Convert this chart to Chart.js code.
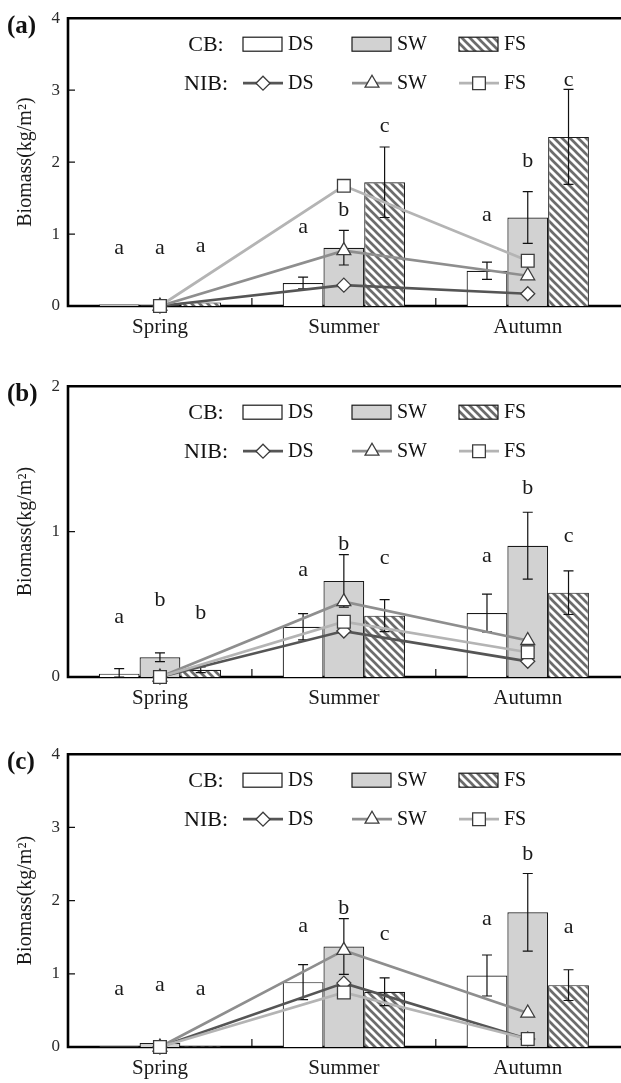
<!DOCTYPE html>
<html>
<head>
<meta charset="utf-8">
<script src="https://cdn.jsdelivr.net/npm/chart.js@4.4.1/dist/chart.umd.min.js"></script>
<style>
  body { margin: 0; background: #fff; width: 621px; height: 1083px; overflow: hidden; position: relative; }
  .panel { position: absolute; left: 0; }
</style>
</head>
<body>
<div class="panel" style="top:0"><canvas id="chartA" width="630" height="345"></canvas></div>
<div class="panel" style="top:368px"><canvas id="chartB" width="630" height="345"></canvas></div>
<div class="panel" style="top:736px"><canvas id="chartC" width="630" height="347"></canvas></div>
<script>
const seasons = ['Spring', 'Summer', 'Autumn'];
const legendNames = ['DS', 'SW', 'FS'];

// (a) CB bars, error, NIB lines, significance letters
const cbA_DS = [0.02, 0.32, 0.49];
const cbA_SW = [0.01, 0.81, 1.23];
const cbA_FS = [0.05, 1.72, 2.35];
const errA_DS = [0, 0.08, 0.12];
const errA_SW = [0, 0.24, 0.36];
const errA_FS = [0, 0.49, 0.66];
const nibA_DS = [0, 0.29, 0.17];
const nibA_SW = [0, 0.77, 0.42];
const nibA_FS = [0, 1.67, 0.63];
const sigA_DS = ['a', 'a', 'a'];
const sigA_SW = ['a', 'b', 'b'];
const sigA_FS = ['a', 'c', 'c'];
const sigYA_DS = [0.72, 1.02, 1.18];
const sigYA_SW = [0.72, 1.25, 1.93];
const sigYA_FS = [0.75, 2.42, 3.06];

// (b)
const cbB_DS = [0.023, 0.346, 0.44];
const cbB_SW = [0.136, 0.661, 0.903];
const cbB_FS = [0.05, 0.422, 0.58];
const errB_DS = [0.035, 0.09, 0.13];
const errB_SW = [0.03, 0.18, 0.23];
const errB_FS = [0.02, 0.11, 0.15];
const nibB_DS = [0, 0.316, 0.108];
const nibB_SW = [0, 0.518, 0.251];
const nibB_FS = [0, 0.38, 0.17];
const sigB_DS = ['a', 'a', 'a'];
const sigB_SW = ['b', 'b', 'b'];
const sigB_FS = ['b', 'c', 'c'];
const sigYB_DS = [0.373, 0.696, 0.793];
const sigYB_SW = [0.488, 0.876, 1.26];
const sigYB_FS = [0.396, 0.776, 0.931];

// (c)
const cbC_DS = [0.01, 0.886, 0.977];
const cbC_SW = [0.055, 1.373, 1.84];
const cbC_FS = [0.01, 0.755, 0.845];
const errC_DS = [0, 0.24, 0.28];
const errC_SW = [0, 0.38, 0.53];
const errC_FS = [0, 0.19, 0.21];
const nibC_DS = [0, 0.873, 0.11];
const nibC_SW = [0, 1.32, 0.464];
const nibC_FS = [0, 0.745, 0.11];
const sigC_DS = ['a', 'a', 'a'];
const sigC_SW = ['a', 'b', 'b'];
const sigC_FS = ['a', 'c', 'a'];
const sigYC_DS = [0.714, 1.577, 1.668];
const sigYC_SW = [0.76, 1.814, 2.555];
const sigYC_FS = [0.714, 1.464, 1.555];

Chart.defaults.font.family = '"Liberation Serif", "DejaVu Serif", serif';
Chart.defaults.color = '#222';

const SERIF = '"Liberation Serif", serif';
const lineColors = ['#555555', '#8e8e8e', '#b4b4b4'];
const markerStyles = ['rectRot', 'triangle', 'rect'];
const markerSizes = [7, 8, 9];

// diagonal hatch tile for FS bars
const tile = document.createElement('canvas');
tile.width = 8; tile.height = 8;
(function () {
  const g = tile.getContext('2d');
  g.fillStyle = '#fff';
  g.fillRect(0, 0, 8, 8);
  g.strokeStyle = '#6c6c6c';
  g.lineWidth = 2.7;
  g.beginPath();
  g.moveTo(-2, -2); g.lineTo(10, 10);
  g.moveTo(-2, 6); g.lineTo(2, 10);
  g.moveTo(6, -2); g.lineTo(10, 2);
  g.stroke();
})();

function marker(ctx, style, x, y, r) {
  ctx.beginPath();
  if (style === 'rectRot') {
    ctx.moveTo(x - r, y); ctx.lineTo(x, y - r); ctx.lineTo(x + r, y); ctx.lineTo(x, y + r);
  } else if (style === 'triangle') {
    ctx.moveTo(x, y - r); ctx.lineTo(x + 0.866 * r, y + 0.5 * r); ctx.lineTo(x - 0.866 * r, y + 0.5 * r);
  } else {
    const s = Math.SQRT1_2 * r;
    ctx.rect(x - s, y - s, 2 * s, 2 * s);
  }
  ctx.closePath();
  ctx.fillStyle = '#fff';
  ctx.fill();
  ctx.lineWidth = 1.3;
  ctx.strokeStyle = '#3c3c3c';
  ctx.stroke();
}

function makePanel(id, tag, yMax, baseY, cb, err, nib, sig, sigY) {
  const canvas = document.getElementById(id);
  const hatch = canvas.getContext('2d').createPattern(tile, 'repeat');
  const barFills = ['#ffffff', '#d2d2d2', hatch];

  const datasets = [];
  for (let i = 0; i < 3; i++) {
    datasets.push({
      type: 'bar', data: cb[i], backgroundColor: barFills[i],
      borderColor: '#1a1a1a', borderWidth: 1.2, order: 3 + i,
      categoryPercentage: 0.665, barPercentage: 1.0
    });
  }
  for (let i = 0; i < 3; i++) {
    datasets.push({
      type: 'line', data: nib[i], borderColor: lineColors[i], borderWidth: 2.7,
      pointStyle: markerStyles[i], pointRadius: markerSizes[i],
      pointBackgroundColor: '#fff', pointBorderColor: '#3c3c3c', pointBorderWidth: 1.3,
      tension: 0, clip: false, order: 2 - i
    });
  }

  const framePlugin = {
    id: 'frame',
    beforeDatasetsDraw(chart) {
      const { ctx, chartArea: a, scales: { x, y } } = chart;
      ctx.save();
      ctx.strokeStyle = '#111';
      ctx.lineWidth = 1.2;
      ctx.beginPath();
      for (let v = 1; v < yMax; v++) {
        const py = y.getPixelForValue(v);
        ctx.moveTo(a.left, py); ctx.lineTo(a.left + 7, py);
      }
      for (let i = 1; i < seasons.length; i++) {
        const px = (x.getPixelForValue(i - 1) + x.getPixelForValue(i)) / 2;
        ctx.moveTo(px, a.bottom); ctx.lineTo(px, a.bottom - 8);
      }
      ctx.stroke();
      ctx.lineWidth = 2.6;
      ctx.strokeStyle = '#000';
      ctx.beginPath();
      ctx.moveTo(a.right + 5, a.top);
      ctx.lineTo(a.left, a.top);
      ctx.lineTo(a.left, a.bottom);
      ctx.lineTo(a.right + 5, a.bottom);
      ctx.stroke();
      ctx.restore();
    }
  };

  const errPlugin = {
    id: 'errbars',
    afterDatasetDraw(chart, args) {
      const i = args.index;
      if (i > 2) return;
      const { ctx, scales: { y } } = chart;
      const meta = chart.getDatasetMeta(i);
      ctx.save();
      ctx.strokeStyle = '#111';
      ctx.lineWidth = 1.2;
      ctx.beginPath();
      meta.data.forEach((bar, j) => {
        const e = err[i][j];
        if (!e) return;
        const v = cb[i][j];
        const y1 = y.getPixelForValue(v + e);
        const y2 = y.getPixelForValue(Math.max(v - e, 0));
        ctx.moveTo(bar.x, y1); ctx.lineTo(bar.x, y2);
        ctx.moveTo(bar.x - 5, y1); ctx.lineTo(bar.x + 5, y1);
        ctx.moveTo(bar.x - 5, y2); ctx.lineTo(bar.x + 5, y2);
      });
      ctx.stroke();
      ctx.restore();
    }
  };

  const textPlugin = {
    id: 'texts',
    afterDatasetsDraw(chart) {
      const { ctx, chartArea: a, scales: { y } } = chart;
      ctx.save();
      // significance letters
      ctx.fillStyle = '#1a1a1a';
      ctx.font = '22px ' + SERIF;
      ctx.textAlign = 'center';
      ctx.textBaseline = 'alphabetic';
      for (let i = 0; i < 3; i++) {
        const meta = chart.getDatasetMeta(i);
        meta.data.forEach((bar, j) => {
          ctx.fillText(sig[i][j], bar.x, y.getPixelForValue(sigY[i][j]));
        });
      }
      // panel tag
      ctx.font = 'bold 25px ' + SERIF;
      ctx.textAlign = 'left';
      ctx.textBaseline = 'middle';
      ctx.fillStyle = '#111';
      ctx.fillText(tag, 7, a.top + 8);

      // legend
      const cols = [243, 352, 459];
      const rows = [a.top + 26, a.top + 65];
      ctx.font = '22px ' + SERIF;
      ctx.textAlign = 'center';
      ctx.fillText('CB:', 206, rows[0] + 1);
      ctx.fillText('NIB:', 206, rows[1] + 1);
      ctx.font = '20px ' + SERIF;
      ctx.textAlign = 'left';
      for (let i = 0; i < 3; i++) {
        const cx = cols[i];
        ctx.fillStyle = barFills[i];
        ctx.fillRect(cx, rows[0] - 7, 39, 14);
        ctx.lineWidth = 1.2;
        ctx.strokeStyle = '#1a1a1a';
        ctx.strokeRect(cx, rows[0] - 7, 39, 14);
        ctx.fillStyle = '#111';
        ctx.fillText(legendNames[i], cx + 45, rows[0] + 1);

        ctx.strokeStyle = lineColors[i];
        ctx.lineWidth = 2.7;
        ctx.beginPath();
        ctx.moveTo(cx, rows[1]); ctx.lineTo(cx + 40, rows[1]);
        ctx.stroke();
        marker(ctx, markerStyles[i], cx + 20, rows[1], markerSizes[i]);
        ctx.fillStyle = '#111';
        ctx.fillText(legendNames[i], cx + 45, rows[1] + 1);
      }
      ctx.restore();
    }
  };

  new Chart(canvas, {
    data: { labels: seasons, datasets: datasets },
    options: {
      responsive: false,
      animation: false,
      layout: { padding: { top: 18, right: 7, left: 0, bottom: 0 } },
      plugins: { legend: { display: false }, tooltip: { enabled: false } },
      scales: {
        x: {
          type: 'category',
          offset: true,
          grid: { display: false, drawTicks: false },
          border: { display: false },
          ticks: { font: { size: 21 }, color: '#1a1a1a', padding: 9 },
          afterFit(scale) { scale.height = canvas.height - baseY; }
        },
        y: {
          min: 0, max: yMax,
          grid: { display: false, drawTicks: false },
          border: { display: false },
          ticks: { stepSize: 1, font: { size: 17 }, color: '#2a2a2a', padding: 8 },
          title: {
            display: true, text: 'Biomass(kg/m²)',
            font: { size: 20 }, color: '#1a1a1a',
            padding: { top: 14, bottom: 0 }
          },
          afterFit(scale) { scale.width = 68; }
        }
      }
    },
    plugins: [framePlugin, errPlugin, textPlugin]
  });
}

makePanel('chartA', '(a)', 4, 306,
  [cbA_DS, cbA_SW, cbA_FS], [errA_DS, errA_SW, errA_FS], [nibA_DS, nibA_SW, nibA_FS],
  [sigA_DS, sigA_SW, sigA_FS], [sigYA_DS, sigYA_SW, sigYA_FS]);
makePanel('chartB', '(b)', 2, 309,
  [cbB_DS, cbB_SW, cbB_FS], [errB_DS, errB_SW, errB_FS], [nibB_DS, nibB_SW, nibB_FS],
  [sigB_DS, sigB_SW, sigB_FS], [sigYB_DS, sigYB_SW, sigYB_FS]);
makePanel('chartC', '(c)', 4, 311,
  [cbC_DS, cbC_SW, cbC_FS], [errC_DS, errC_SW, errC_FS], [nibC_DS, nibC_SW, nibC_FS],
  [sigC_DS, sigC_SW, sigC_FS], [sigYC_DS, sigYC_SW, sigYC_FS]);
</script>
</body>
</html>
